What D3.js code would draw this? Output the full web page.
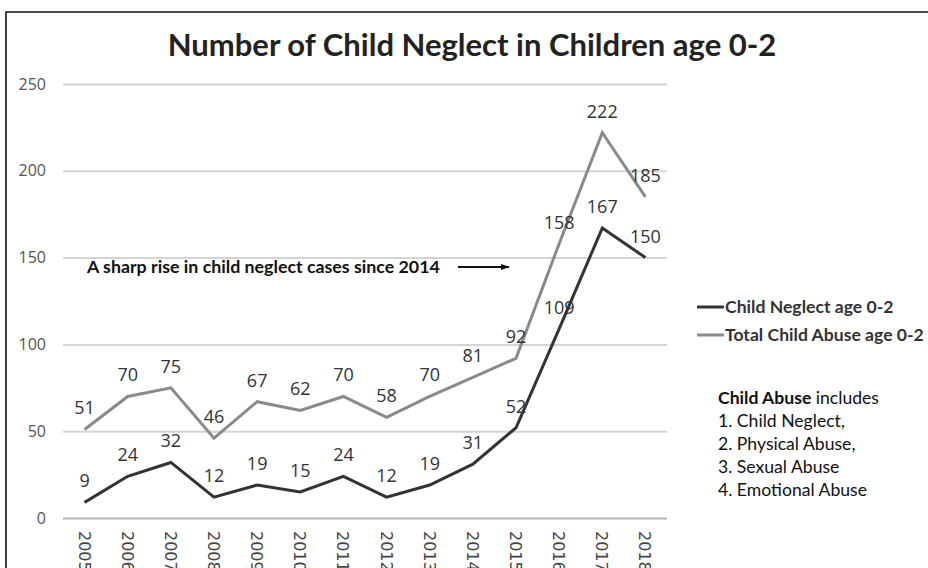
<!DOCTYPE html>
<html>
<head>
<meta charset="utf-8">
<script src="https://cdn.jsdelivr.net/npm/d3@7/dist/d3.min.js"></script>
<style>
  html, body { margin: 0; padding: 0; background: #fff; }
  svg { display: block; }
</style>
</head>
<body>
<svg id="chart" width="928" height="568"></svg>
<script>
// Yearly counts, children aged 0-2
const years = ["2005","2006","2007","2008","2009","2010","2011","2012","2013","2014","2015","2016","2017","2018"];
const neglect = [9, 24, 32, 12, 19, 15, 24, 12, 19, 31, 52, 109, 167, 150];
const totalAbuse = [51, 70, 75, 46, 67, 62, 70, 58, 70, 81, 92, 158, 222, 185];
const yTicks = [0, 50, 100, 150, 200, 250];
const seriesNames = ["Child Neglect age 0-2", "Total Child Abuse age 0-2"];
const noteLines = ["1. Child Neglect,", "2. Physical Abuse,", "3. Sexual Abuse", "4. Emotional Abuse"];

const svg = d3.select("#chart");
const W = 928, H = 568;
const plot = { left: 63, right: 667, top: 84, bottom: 518 };

const x = d3.scaleBand().domain(years).range([plot.left, plot.right]);
const y = d3.scaleLinear().domain([0, 250]).range([plot.bottom, plot.top]);
const cx = d => x(d) + x.bandwidth() / 2;

// frame
svg.append("path")
  .attr("d", `M6,${H} L6,12 L${W},12`)
  .attr("fill", "none").attr("stroke", "#111").attr("stroke-width", 1.6);

// title
svg.append("text")
  .attr("x", 472).attr("y", 56)
  .attr("text-anchor", "middle")
  .attr("font-family", "Lato, 'Open Sans', sans-serif")
  .attr("font-weight", 700).attr("font-size", 31)
  .attr("fill", "#222")
  .text("Number of Child Neglect in Children age 0-2");

// horizontal gridlines and y axis labels
const yAxis = d3.axisLeft(y).tickValues(yTicks).tickSize(plot.right - plot.left).tickPadding(16);
const gy = svg.append("g").attr("transform", `translate(${plot.right},0)`).call(yAxis);
gy.select(".domain").remove();
gy.selectAll(".tick line")
  .attr("stroke", d => d === 0 ? "#b5b5b5" : "#d4d4d4")
  .attr("stroke-width", 2);
gy.selectAll(".tick text")
  .attr("font-family", "'Open Sans', sans-serif")
  .attr("font-size", 16).attr("fill", "#555")
  .attr("x", -(plot.right - plot.left) - 17);

// rotated year labels (the last digit runs off the bottom edge)
const xAxis = d3.axisBottom(x).tickSize(0).tickPadding(0);
const gx = svg.append("g").attr("transform", `translate(0,${plot.bottom})`).call(xAxis);
gx.select(".domain").remove();
gx.selectAll(".tick text")
  .attr("font-family", "'DejaVu Sans', sans-serif")
  .attr("font-size", 16).attr("fill", "#444")
  .attr("text-anchor", "start")
  .attr("dy", null).attr("y", 0)
  .attr("transform", "translate(-6,13) rotate(90)");

// series lines
const series = [
  { name: seriesNames[1], values: totalAbuse, color: "#8a8a8a" },
  { name: seriesNames[0], values: neglect, color: "#333333" }
];
const line = d3.line().x((d, i) => cx(years[i])).y(d => y(d));

series.forEach(s => {
  svg.append("path")
    .datum(s.values)
    .attr("d", line)
    .attr("fill", "none")
    .attr("stroke", s.color)
    .attr("stroke-width", 3)
    .attr("stroke-linejoin", "miter");
});

// value labels above each point
series.forEach(s => {
  svg.append("g").selectAll("text")
    .data(s.values)
    .join("text")
    .attr("x", (d, i) => cx(years[i]))
    .attr("y", d => y(d) - 15)
    .attr("text-anchor", "middle")
    .attr("font-family", "'Open Sans', sans-serif")
    .attr("font-size", 18)
    .attr("fill", "#333")
    .text(d => d);
});

// annotation with arrow
svg.append("defs").append("marker")
  .attr("id", "arrowhead")
  .attr("viewBox", "0 0 10 10").attr("refX", 9).attr("refY", 5)
  .attr("markerWidth", 4.5).attr("markerHeight", 4.5)
  .attr("orient", "auto")
  .append("path").attr("d", "M0,1.5 L10,5 L0,8.5 Z").attr("fill", "#111");

svg.append("text")
  .attr("x", 87).attr("y", 273)
  .attr("font-family", "Lato, sans-serif")
  .attr("font-weight", 700).attr("font-size", 17.8)
  .attr("fill", "#111")
  .text("A sharp rise in child neglect cases since 2014");
svg.append("line")
  .attr("x1", 458).attr("x2", 509).attr("y1", 267).attr("y2", 267)
  .attr("stroke", "#111").attr("stroke-width", 2)
  .attr("marker-end", "url(#arrowhead)");

// legend
const legendItems = [
  { name: seriesNames[0], color: "#333333" },
  { name: seriesNames[1], color: "#8a8a8a" }
];
const lg = svg.append("g");
legendItems.forEach((it, i) => {
  const ly = 307 + i * 28;
  lg.append("line")
    .attr("x1", 697).attr("x2", 724).attr("y1", ly).attr("y2", ly)
    .attr("stroke", it.color).attr("stroke-width", 3);
  lg.append("text")
    .attr("x", 725).attr("y", ly + 6)
    .attr("font-family", "Lato, sans-serif")
    .attr("font-weight", 700).attr("font-size", 17.6)
    .attr("fill", "#333")
    .text(it.name);
});

// note on what child abuse includes
const note = svg.append("text")
  .attr("font-family", "Lato, sans-serif")
  .attr("font-size", 17.6)
  .attr("fill", "#111");
const head = note.append("tspan").attr("x", 718).attr("y", 404);
head.append("tspan").attr("font-weight", 700).text("Child Abuse");
head.append("tspan").text(" includes");
noteLines.forEach((t, i) => {
  note.append("tspan").attr("x", 718).attr("y", 427 + i * 23).text(t);
});
</script>
</body>
</html>
